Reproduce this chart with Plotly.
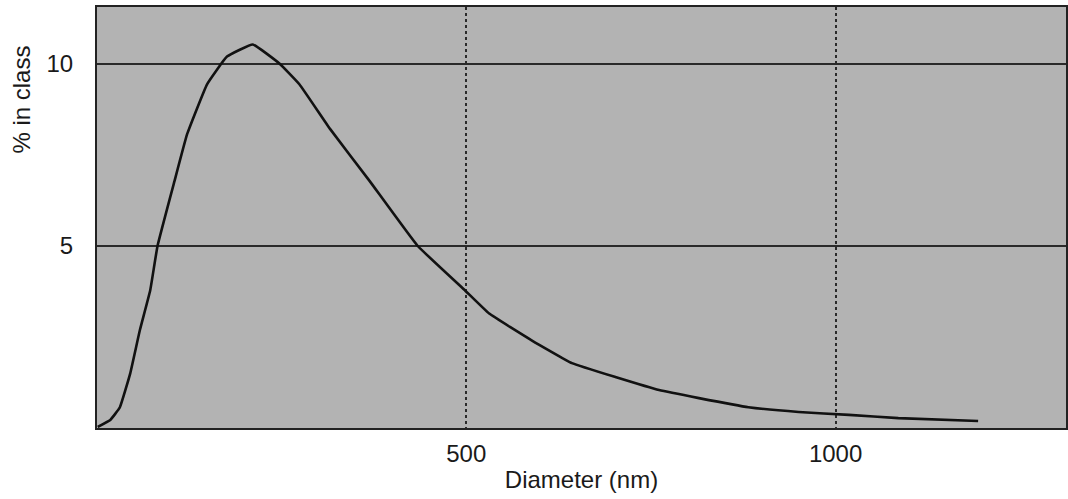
import plotly.graph_objects as go

diameter_nm = [1, 18, 31, 45, 58, 72, 82, 105, 122, 149, 176, 211, 247, 274, 315,
               369, 434, 497, 531, 589, 643, 703, 761, 815, 882, 950, 1018, 1085, 1193]
pct_in_class = [0.03, 0.22, 0.57, 1.50, 2.68, 3.77, 5.0, 6.78, 8.06, 9.43, 10.19, 10.52,
                10.0, 9.43, 8.22, 6.78, 5.0, 3.80, 3.14, 2.40, 1.78, 1.39, 1.04, 0.82,
                0.57, 0.44, 0.36, 0.27, 0.19]
x_ticks = [500, 1000]
y_ticks = [5, 10]

fig = go.Figure()
fig.add_trace(go.Scatter(x=diameter_nm, y=pct_in_class, mode="lines",
                         line=dict(color="#111111", width=2.6, shape="spline", smoothing=0.3),
                         showlegend=False, hoverinfo="skip"))

font = dict(family="Liberation Sans, Arial, sans-serif", size=24, color="#1a1a1a")

fig.update_layout(
    width=1068, height=499,
    margin=dict(l=97, r=0, t=7, b=71),
    paper_bgcolor="white",
    plot_bgcolor="#b3b3b3",
    font=font,
    xaxis=dict(range=[0, 1312], tickvals=x_ticks, ticktext=[str(v) for v in x_ticks],
               showgrid=True, gridcolor="#2a2a2a", gridwidth=1.5, griddash="dot",
               zeroline=False, showline=True, linecolor="#222222", linewidth=2,
               mirror=True, ticks="", ticklabelstandoff=3,
               title=dict(text="Diameter (nm)", standoff=5, font=font)),
    yaxis=dict(range=[0, 11.55], tickvals=y_ticks, ticktext=[str(v) for v in y_ticks],
               showgrid=True, gridcolor="#2a2a2a", gridwidth=1.5,
               zeroline=False, showline=True, linecolor="#222222", linewidth=2,
               mirror=True, ticks="", ticklabelstandoff=17),
    annotations=[dict(text="% in class", xref="paper", yref="paper", x=0, y=0.78,
                      xshift=-75, textangle=-90, showarrow=False, font=font,
                      xanchor="center", yanchor="middle")],
)

fig.write_html("out.html")
